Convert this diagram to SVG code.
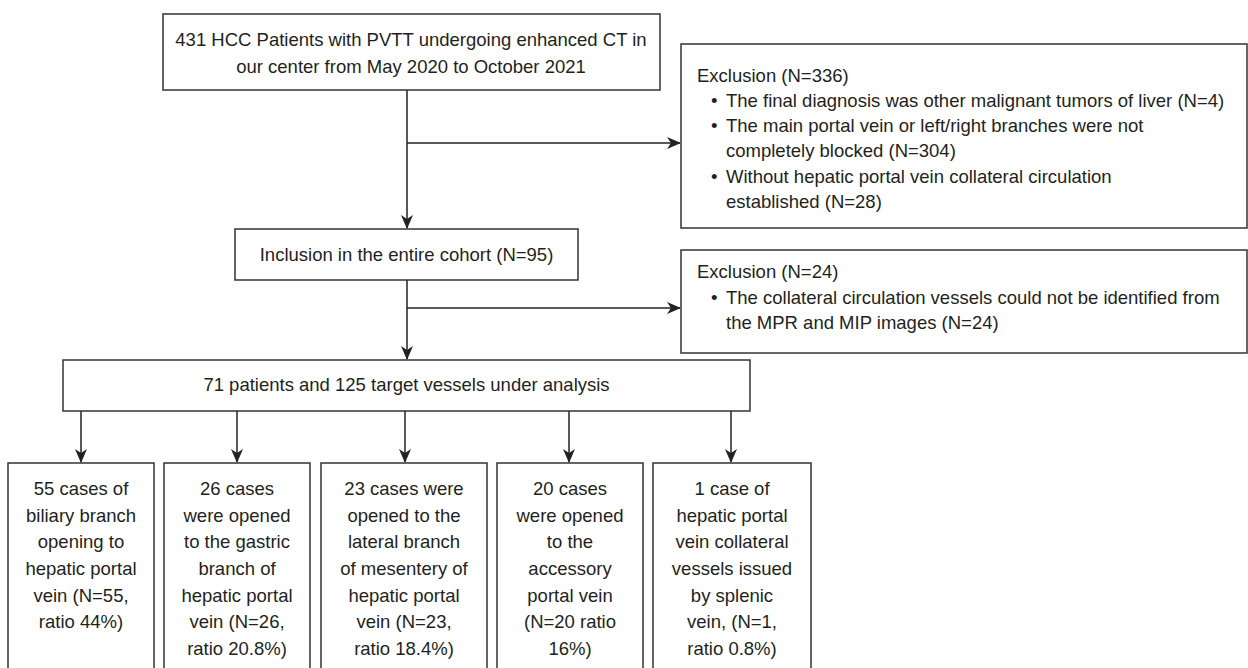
<svg xmlns="http://www.w3.org/2000/svg" width="1248" height="668" viewBox="0 0 1248 668">
<defs>
<marker id="arr" markerWidth="14" markerHeight="12" refX="13" refY="6" orient="auto" markerUnits="userSpaceOnUse">
<path d="M0,0 L14,6 L0,12 L4,6 Z" fill="#222"/>
</marker>
<style>
.box{fill:#fff;stroke:#333;stroke-width:1.5}
.t{font-family:"Liberation Sans",Arial,sans-serif;font-size:18.5px;fill:#231f20}
.c{text-anchor:middle}
.ln{fill:none;stroke:#222;stroke-width:1.5}
</style>
</defs>
<rect width="1248" height="668" fill="#fff"/>
<g id="connectors">
<line class="ln" x1="407" y1="90" x2="407" y2="228" marker-end="url(#arr)"/>
<line class="ln" x1="407" y1="143" x2="680" y2="143" marker-end="url(#arr)"/>
<line class="ln" x1="407" y1="280" x2="407" y2="359" marker-end="url(#arr)"/>
<line class="ln" x1="407" y1="308" x2="680" y2="308" marker-end="url(#arr)"/>
<line class="ln" x1="81" y1="411" x2="81" y2="462" marker-end="url(#arr)"/>
<line class="ln" x1="237" y1="411" x2="237" y2="462" marker-end="url(#arr)"/>
<line class="ln" x1="405" y1="411" x2="405" y2="462" marker-end="url(#arr)"/>
<line class="ln" x1="569" y1="411" x2="569" y2="462" marker-end="url(#arr)"/>
<line class="ln" x1="731" y1="411" x2="731" y2="462" marker-end="url(#arr)"/>
</g>
<g id="start">
<rect class="box" x="163" y="14" width="497" height="76"/>
<text class="t c" x="411" y="46">431 HCC Patients with PVTT undergoing enhanced CT in</text>
<text class="t c" x="411" y="73">our center from May 2020 to October 2021</text>
</g>
<g id="exclusion1">
<rect class="box" x="681" y="44" width="566" height="184"/>
<text class="t" x="697" y="82">Exclusion (N=336)</text>
<text class="t" x="711" y="107">•</text><text class="t" x="726" y="107">The final diagnosis was other malignant tumors of liver (N=4)</text>
<text class="t" x="711" y="132">•</text><text class="t" x="726" y="132">The main portal vein or left/right branches were not</text>
<text class="t" x="726" y="157">completely blocked (N=304)</text>
<text class="t" x="711" y="183">•</text><text class="t" x="726" y="183">Without hepatic portal vein collateral circulation</text>
<text class="t" x="726" y="208">established (N=28)</text>
</g>
<g id="inclusion">
<rect class="box" x="235" y="229" width="343" height="51"/>
<text class="t c" x="406.5" y="261">Inclusion in the entire cohort (N=95)</text>
</g>
<g id="exclusion2">
<rect class="box" x="681" y="250" width="566" height="103"/>
<text class="t" x="697" y="278">Exclusion (N=24)</text>
<text class="t" x="711" y="304">•</text><text class="t" x="726" y="304">The collateral circulation vessels could not be identified from</text>
<text class="t" x="726" y="329">the MPR and MIP images (N=24)</text>
</g>
<g id="analysis">
<rect class="box" x="63" y="360" width="687" height="51"/>
<text class="t c" x="406.5" y="391">71 patients and 125 target vessels under analysis</text>
</g>
<g id="biliary">
<rect class="box" x="8" y="463" width="146" height="220"/>
<text class="t c" x="81"><tspan x="81" y="495">55 cases of</tspan><tspan x="81" y="522">biliary branch</tspan><tspan x="81" y="548">opening to</tspan><tspan x="81" y="575">hepatic portal</tspan><tspan x="81" y="602">vein (N=55,</tspan><tspan x="81" y="628">ratio 44%)</tspan></text>
</g>
<g id="gastric">
<rect class="box" x="164" y="463" width="146" height="220"/>
<text class="t c" x="237"><tspan x="237" y="495">26 cases</tspan><tspan x="237" y="522">were opened</tspan><tspan x="237" y="548">to the gastric</tspan><tspan x="237" y="575">branch of</tspan><tspan x="237" y="602">hepatic portal</tspan><tspan x="237" y="628">vein (N=26,</tspan><tspan x="237" y="655">ratio 20.8%)</tspan></text>
</g>
<g id="mesentery">
<rect class="box" x="321" y="463" width="166" height="220"/>
<text class="t c" x="404"><tspan x="404" y="495">23 cases were</tspan><tspan x="404" y="522">opened to the</tspan><tspan x="404" y="548">lateral branch</tspan><tspan x="404" y="575">of mesentery of</tspan><tspan x="404" y="602">hepatic portal</tspan><tspan x="404" y="628">vein (N=23,</tspan><tspan x="404" y="655">ratio 18.4%)</tspan></text>
</g>
<g id="accessory">
<rect class="box" x="497" y="463" width="146" height="220"/>
<text class="t c" x="570"><tspan x="570" y="495">20 cases</tspan><tspan x="570" y="522">were opened</tspan><tspan x="570" y="548">to the</tspan><tspan x="570" y="575">accessory</tspan><tspan x="570" y="602">portal vein</tspan><tspan x="570" y="628">(N=20 ratio</tspan><tspan x="570" y="655">16%)</tspan></text>
</g>
<g id="splenic">
<rect class="box" x="653" y="463" width="158" height="220"/>
<text class="t c" x="732"><tspan x="732" y="495">1 case of</tspan><tspan x="732" y="522">hepatic portal</tspan><tspan x="732" y="548">vein collateral</tspan><tspan x="732" y="575">vessels issued</tspan><tspan x="732" y="602">by splenic</tspan><tspan x="732" y="628">vein, (N=1,</tspan><tspan x="732" y="655">ratio 0.8%)</tspan></text>
</g>
</svg>
